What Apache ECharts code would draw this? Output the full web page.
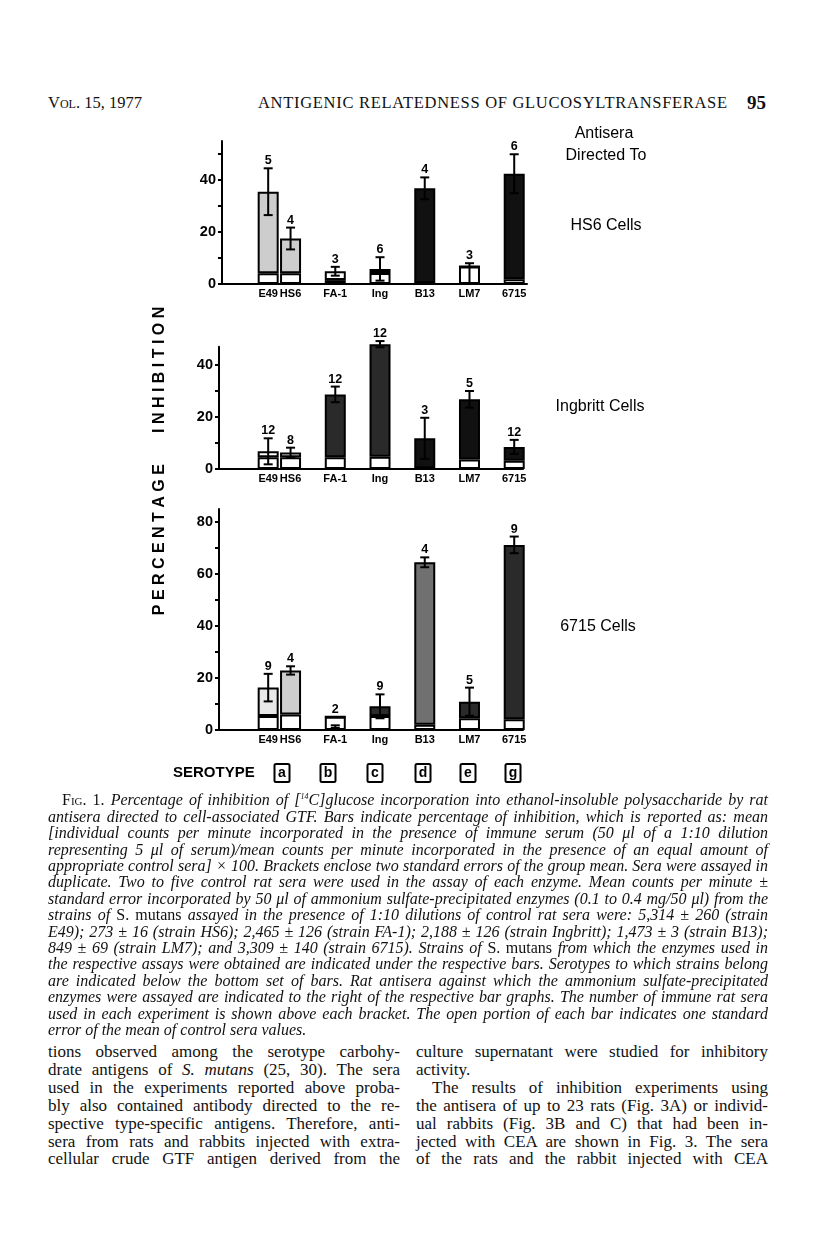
<!DOCTYPE html>
<html lang="en">
<head>
<meta charset="utf-8">
<title>Fig. 1 - inhibition of glucosyltransferase</title>
<script src="https://cdn.jsdelivr.net/npm/echarts@6.0.0/dist/echarts.min.js"></script>
<style>
    html, body { margin: 0; padding: 0; background: #fff; }
    body { width: 816px; height: 1245px; position: relative; overflow: hidden; color: #111; }
    #chart { position: absolute; left: 0; top: 0; width: 816px; height: 790px; }
    .serif { font-family: "Liberation Serif", "DejaVu Serif", serif; }
    .hdr { position: absolute; top: 93px; font-size: 16.5px; line-height: 20px; white-space: nowrap; }
    .cap { position: absolute; left: 48px; top: 789px; width: 720px; font-size: 16px; line-height: 16.4px; font-style: italic; }
    .cap div, .col div { text-align: justify; text-align-last: justify; white-space: nowrap; }
    .cap .rm { font-style: normal; }
    .col { position: absolute; top: 1043px; width: 352px; font-size: 17px; line-height: 17.9px; }
    .col .it { font-style: italic; }
    .col div.last { text-align-last: left; }
</style>
</head>
<body>
<div class="hdr serif" style="left:48px"><span style="font-variant:small-caps">Vol.</span> 15, 1977</div>
<div class="hdr serif" style="left:258px;letter-spacing:0.7px">ANTIGENIC RELATEDNESS OF GLUCOSYLTRANSFERASE</div>
<div class="hdr serif" style="left:747px;font-size:19px;font-weight:bold">95</div>

<div id="chart"></div>

<div class="cap serif">
    <div style="padding-left:14px"><span class="rm" style="font-variant:small-caps">Fig. 1.</span> Percentage of inhibition of [<sup style="font-size:8px">14</sup>C]glucose incorporation into ethanol-insoluble polysaccharide by rat</div>
    <div>antisera directed to cell-associated GTF. Bars indicate percentage of inhibition, which is reported as: mean</div>
    <div>[individual counts per minute incorporated in the presence of immune serum (50 μl of a 1:10 dilution</div>
    <div>representing 5 μl of serum)/mean counts per minute incorporated in the presence of an equal amount of</div>
    <div>appropriate control sera] × 100. Brackets enclose two standard errors of the group mean. Sera were assayed in</div>
    <div>duplicate. Two to five control rat sera were used in the assay of each enzyme. Mean counts per minute ±</div>
    <div>standard error incorporated by 50 μl of ammonium sulfate-precipitated enzymes (0.1 to 0.4 mg/50 μl) from the</div>
    <div>strains of <span class="rm">S. mutans</span> assayed in the presence of 1:10 dilutions of control rat sera were: 5,314 ± 260 (strain</div>
    <div>E49); 273 ± 16 (strain HS6); 2,465 ± 126 (strain FA-1); 2,188 ± 126 (strain Ingbritt); 1,473 ± 3 (strain B13);</div>
    <div>849 ± 69 (strain LM7); and 3,309 ± 140 (strain 6715). Strains of <span class="rm">S. mutans</span> from which the enzymes used in</div>
    <div>the respective assays were obtained are indicated under the respective bars. Serotypes to which strains belong</div>
    <div>are indicated below the bottom set of bars. Rat antisera against which the ammonium sulfate-precipitated</div>
    <div>enzymes were assayed are indicated to the right of the respective bar graphs. The number of immune rat sera</div>
    <div>used in each experiment is shown above each bracket. The open portion of each bar indicates one standard</div>
    <div style="text-align-last:left">error of the mean of control sera values.</div>
</div>

<div class="col serif" style="left:48px">
    <div>tions observed among the serotype carbohy-</div>
    <div>drate antigens of <span class="it">S. mutans</span> (25, 30). The sera</div>
    <div>used in the experiments reported above proba-</div>
    <div>bly also contained antibody directed to the re-</div>
    <div>spective type-specific antigens. Therefore, anti-</div>
    <div>sera from rats and rabbits injected with extra-</div>
    <div>cellular crude GTF antigen derived from the</div>
</div>
<div class="col serif" style="left:416px">
    <div>culture supernatant were studied for inhibitory</div>
    <div class="last">activity.</div>
    <div style="padding-left:16px">The results of inhibition experiments using</div>
    <div>the antisera of up to 23 rats (Fig. 3A) or individ-</div>
    <div>ual rabbits (Fig. 3B and C) that had been in-</div>
    <div>jected with CEA are shown in Fig. 3. The sera</div>
    <div>of the rats and the rabbit injected with CEA</div>
</div>

<script>
    // strains tested (under each bar)
    var strains = ['E49', 'HS6', 'FA-1', 'Ing', 'B13', 'LM7', '6715'];
    var serotypes = ['a', 'b', 'c', 'd', 'e', 'g'];

    // antisera directed to HS6 cells
    var hs6Value = [35.5, 17.5, 4.9, 5.8, 36.8, 3.4, 42.4];
    var hs6Se    = [9.0, 4.2, 1.7, 4.5, 4.2, 4.6, 7.5];
    var hs6Open  = [4.1, 4.1, 1.5, 4.2, 0.4, 6.7, 1.8];
    var hs6N     = [5, 4, 3, 6, 4, 3, 6];
    var hs6Fill  = ['light', 'light', 'white', 'white', 'black', 'white', 'black'];

    // antisera directed to Ingbritt cells
    var ingValue = [6.8, 6.3, 28.7, 48.0, 11.8, 26.8, 8.5];
    var ingSe    = [5.0, 1.9, 3.0, 1.2, 7.9, 3.2, 2.7];
    var ingOpen  = [4.5, 4.5, 4.5, 4.7, 0.3, 3.7, 3.2];
    var ingN     = [12, 8, 12, 12, 3, 5, 12];
    var ingFill  = ['white', 'white', 'dark', 'dark', 'black', 'black', 'black'];

    // antisera directed to 6715 cells
    var s6715Value = [16.3, 22.9, 1.3, 9.1, 64.5, 10.9, 71.2];
    var s6715Se    = [5.3, 1.6, 0.5, 4.6, 1.9, 5.4, 3.2];
    var s6715Open  = [5.4, 6.0, 5.1, 5.4, 2.0, 4.5, 4.1];
    var s6715N     = [9, 4, 2, 9, 4, 5, 9];
    var s6715Fill  = ['pale', 'light', 'white', 'dark', 'mid', 'dark', 'dark'];

    var fillColor = {black: '#111', dark: '#2a2a2a', mid: '#707070', light: '#cdcdcd', pale: '#e8e8e8', white: '#fff'};

    // E49 and HS6 sit side by side, the others have an empty slot before them
    var slotNames = [];
    var slotOf = [];
    strains.forEach(function (s, i) {
        if (i >= 2) slotNames.push('');
        slotOf.push(slotNames.length);
        slotNames.push(s);
    });

    var panels = [
        {label: 'HS6 Cells', value: hs6Value, se: hs6Se, open: hs6Open, n: hs6N, fill: hs6Fill,
         max: 55, zeroY: 284, axisX: 222, axisEnd: 527, labelX: 606, labelY: 226},
        {label: 'Ingbritt Cells', value: ingValue, se: ingSe, open: ingOpen, n: ingN, fill: ingFill,
         max: 47, zeroY: 469, axisX: 219, axisEnd: 523, labelX: 600, labelY: 407},
        {label: '6715 Cells', value: s6715Value, se: s6715Se, open: s6715Open, n: s6715N, fill: s6715Fill,
         max: 85, zeroY: 730, axisX: 219, axisEnd: 523, labelX: 598, labelY: 627}
    ];
    var pxPerUnit = 2.6;

    function range(max, step) {
        var out = [];
        for (var v = 0; v <= max; v += step) out.push(v);
        return out;
    }

    // bracket (mean +/- se) and the number of sera above it
    function renderErr(params, api) {
        var x = api.value(0), v = api.value(1), se = api.value(2), open = api.value(4);
        var lo = Math.max(v - se, 0);
        var top = api.coord([x, v + se]);
        var bot = api.coord([x, lo]);
        var lab = api.coord([x, Math.max(v + se, open)]);
        var cap = 4.5;
        var st = {stroke: '#000', lineWidth: 2};
        var kids = [
            {type: 'line', shape: {x1: top[0], y1: top[1], x2: bot[0], y2: bot[1]}, style: st},
            {type: 'line', shape: {x1: top[0] - cap, y1: top[1], x2: top[0] + cap, y2: top[1]}, style: st}
        ];
        if (v - se > 0) {
            kids.push({type: 'line', shape: {x1: bot[0] - cap, y1: bot[1], x2: bot[0] + cap, y2: bot[1]}, style: st});
        }
        kids.push({type: 'text', style: {text: String(api.value(3)), x: lab[0], y: lab[1] - 1,
            align: 'center', verticalAlign: 'bottom', font: 'bold 12.5px "Liberation Sans", Arial', fill: '#000'}});
        return {type: 'group', children: kids};
    }

    var grid = [], xAxis = [], yAxis = [], series = [], graphic = [];
    var sans = '"Liberation Sans", Arial';

    panels.forEach(function (p, k) {
        var h = p.max * pxPerUnit;
        var top = p.zeroY - h;
        // frame grid: y axis with ticks and the base line
        grid.push({left: p.axisX, width: p.axisEnd - p.axisX, top: top, height: h});
        xAxis.push({type: 'value', gridIndex: 2 * k, min: 0, max: 1, show: true,
            axisLine: {show: true, onZero: false, lineStyle: {color: '#000', width: 2}},
            axisTick: {show: false}, axisLabel: {show: false}, splitLine: {show: false}});
        yAxis.push({type: 'value', gridIndex: 2 * k, min: 0, max: p.max,
            axisLine: {show: true, lineStyle: {color: '#000', width: 2}},
            axisTick: {show: true, length: 4, lineStyle: {color: '#000', width: 2}, customValues: range(p.max, 10)},
            axisLabel: {show: true, margin: 6, color: '#000', fontSize: 14.5, fontWeight: 'bold',
                fontFamily: sans, customValues: range(p.max, 20)},
            splitLine: {show: false}});
        // bar grid: category slots
        grid.push({left: 257, width: 268.4, top: top, height: h});
        xAxis.push({type: 'category', gridIndex: 2 * k + 1, data: slotNames,
            axisLine: {show: false}, axisTick: {show: false},
            axisLabel: {interval: 0, margin: 4, color: '#000', fontSize: 11, fontWeight: 'bold',
                fontFamily: sans}});
        yAxis.push({type: 'value', gridIndex: 2 * k + 1, min: 0, max: p.max, show: false});

        var openData = slotNames.map(function () { return '-'; });
        var fillData = slotNames.map(function () { return '-'; });
        var errData = [];
        strains.forEach(function (s, i) {
            var c = slotOf[i];
            openData[c] = p.open[i];
            fillData[c] = {
                value: Math.max(p.value[i] - p.open[i], 0),
                itemStyle: {color: fillColor[p.fill[i]]}
            };
            errData.push([c, p.value[i], p.se[i], p.n[i], p.open[i]]);
        });
        var barStyle = {borderColor: '#000', borderWidth: 2};
        series.push({type: 'bar', name: p.label + ' open', xAxisIndex: 2 * k + 1, yAxisIndex: 2 * k + 1,
            stack: 'p' + k, barWidth: 21, clip: false, data: openData,
            itemStyle: Object.assign({color: '#fff'}, barStyle)});
        series.push({type: 'bar', name: p.label, xAxisIndex: 2 * k + 1, yAxisIndex: 2 * k + 1,
            stack: 'p' + k, barWidth: 21, clip: false, data: fillData, itemStyle: barStyle});
        series.push({type: 'custom', name: p.label + ' se', xAxisIndex: 2 * k + 1, yAxisIndex: 2 * k + 1,
            clip: false, z: 5, renderItem: renderErr, data: errData});

        graphic.push({type: 'text', x: p.labelX, y: p.labelY,
            style: {text: p.label, align: 'center', verticalAlign: 'middle', font: '16px ' + sans, fill: '#000'}});
    });

    var ttl = {font: '16px ' + sans, fill: '#000', align: 'center', verticalAlign: 'middle'};
    graphic.push({type: 'text', x: 604, y: 134, style: Object.assign({text: 'Antisera'}, ttl)});
    graphic.push({type: 'text', x: 606, y: 156, style: Object.assign({text: 'Directed To'}, ttl)});

    // y axis title
    graphic.push({type: 'text', x: 160, y: 461, rotation: Math.PI / 2,
        style: {text: 'P E R C E N T A G E       I N H I B I T I O N', align: 'center', verticalAlign: 'middle',
            font: 'bold 16px ' + sans, fill: '#000'}});

    // serotype row
    graphic.push({type: 'text', x: 173, y: 773, style: {text: 'SEROTYPE', verticalAlign: 'middle',
        font: 'bold 15px ' + sans, fill: '#000'}});
    var seroX = [282, 328, 375, 423, 468, 513];
    serotypes.forEach(function (s, i) {
        graphic.push({type: 'rect', shape: {x: seroX[i] - 7.5, y: 764, width: 15, height: 18, r: 1.5},
            style: {fill: '#fff', stroke: '#000', lineWidth: 2}});
        graphic.push({type: 'text', x: seroX[i], y: 773.5, style: {text: s, align: 'center', verticalAlign: 'middle',
            font: 'bold 14px ' + sans, fill: '#000'}});
    });

    var chart = echarts.init(document.getElementById('chart'), null, {renderer: 'canvas'});
    chart.setOption({
        animation: false,
        backgroundColor: 'transparent',
        grid: grid,
        xAxis: xAxis,
        yAxis: yAxis,
        series: series,
        graphic: graphic
    });
</script>
</body>
</html>
